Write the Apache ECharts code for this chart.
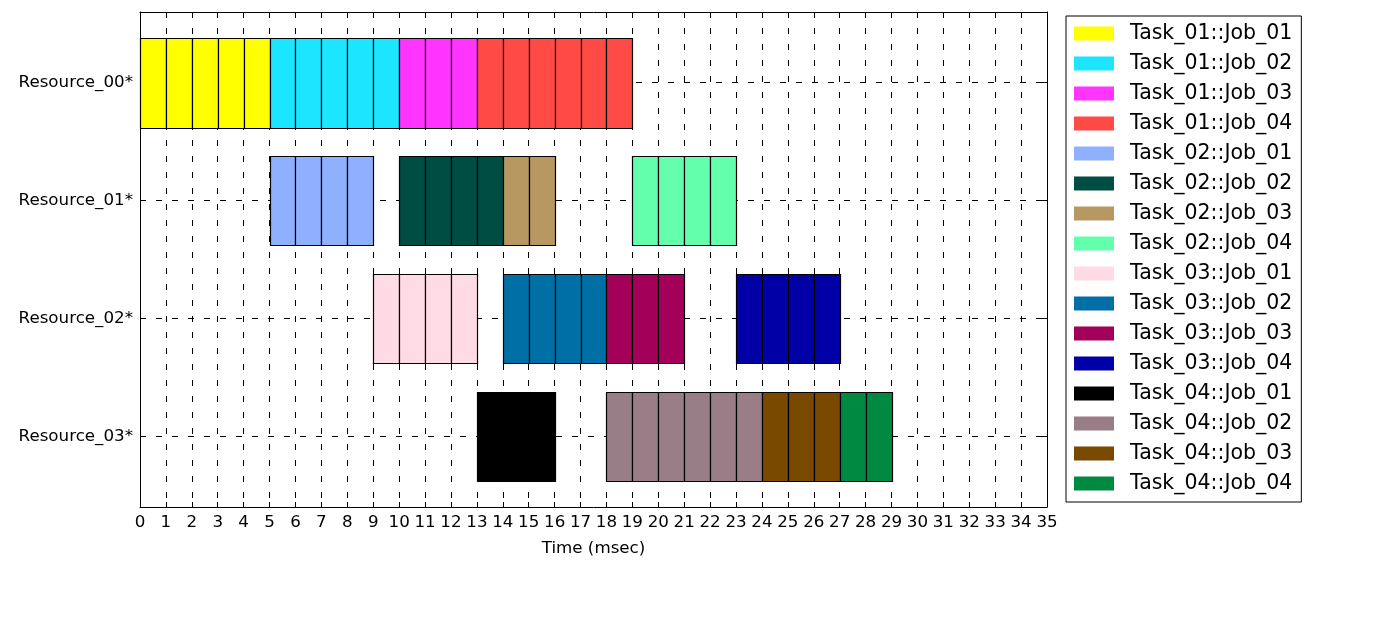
<!DOCTYPE html>
<html>
<head>
<meta charset="utf-8">
<script src="https://cdn.jsdelivr.net/npm/echarts@6/dist/echarts.min.js"></script>
<style>
html,body{margin:0;padding:0;background:#fff;}
#chart{width:1396px;height:618px;}
</style>
</head>
<body>
<div id="chart"></div>
<script>
const resources = ['Resource_00*', 'Resource_01*', 'Resource_02*', 'Resource_03*'];
const jobs = [
  'Task_01::Job_01', 'Task_01::Job_02', 'Task_01::Job_03', 'Task_01::Job_04',
  'Task_02::Job_01', 'Task_02::Job_02', 'Task_02::Job_03', 'Task_02::Job_04',
  'Task_03::Job_01', 'Task_03::Job_02', 'Task_03::Job_03', 'Task_03::Job_04',
  'Task_04::Job_01', 'Task_04::Job_02', 'Task_04::Job_03', 'Task_04::Job_04'
];
const jobColors = [
  '#FFFF00', '#1CE6FF', '#FF34FF', '#FF4A46',
  '#8FB0FF', '#004D43', '#B79762', '#63FFAC',
  '#FFDBE5', '#006FA6', '#A30059', '#0000A6',
  '#000000', '#997D87', '#7A4900', '#008941'
];
const jobResource = [0,0,0,0, 1,1,1,1, 2,2,2,2, 3,3,3,3];
const jobStart = [0,5,10,13, 5,10,14,19, 9,14,18,23, 13,18,24,27];
const jobEnd   = [5,10,13,19, 9,14,16,23, 13,18,21,27, 16,24,27,29];
const xMin = 0, xMax = 35, xStep = 1;
const xTitle = 'Time (msec)';

const FONT = 'DejaVu Sans';
const HALF = 0.38;
const resourceIdx = resources.map((_, i) => i);

function renderItem(params, api) {
  const s = api.value(0), e = api.value(1), r = api.value(2);
  const fill = api.visual('color');
  const children = [];
  for (let t = s; t < e; t++) {
    const p0 = api.coord([t, r - HALF]);
    const p1 = api.coord([t + 1, r + HALF]);
    const x0 = Math.round(p0[0]) + 0.5, x1 = Math.round(p1[0]) + 0.5;
    const y0 = Math.round(Math.min(p0[1], p1[1])) + 0.5, y1 = Math.round(Math.max(p0[1], p1[1])) + 0.5;
    children.push({
      type: 'rect',
      shape: { x: x0, y: y0, width: x1 - x0, height: y1 - y0 },
      style: { fill: fill, stroke: '#000', lineWidth: 1.2 }
    });
  }
  return { type: 'group', children: children };
}

const series = jobs.map((name, i) => ({
  name: name,
  type: 'custom',
  renderItem: renderItem,
  xAxisIndex: 0,
  yAxisIndex: 0,
  itemStyle: { color: jobColors[i] },
  encode: { x: [0, 1], y: 2 },
  data: [[jobStart[i], jobEnd[i], jobResource[i]]],
  z: 3
}));

const dash = [6, 10];

const option = {
  animation: false,
  textStyle: { fontFamily: FONT },
  grid: { left: 140, right: 349, top: 12, bottom: 111, containLabel: false },
  legend: {
    orient: 'vertical',
    left: 1066,
    top: 16,
    padding: [7, 9, 8, 8],
    itemWidth: 40,
    itemHeight: 14,
    itemGap: 9,
    borderColor: '#000',
    borderWidth: 1,
    borderRadius: 0,
    icon: 'rect',
    itemStyle: { borderWidth: 0 },
    textStyle: { fontFamily: FONT, fontSize: 20.5, lineHeight: 20, color: '#000', padding: [0, 0, 0, 11] },
    data: jobs
  },
  xAxis: [
    {
      type: 'value', min: xMin, max: xMax, interval: xStep, position: 'bottom',
      name: xTitle, nameLocation: 'middle', nameGap: 33,
      nameTextStyle: { fontFamily: FONT, fontSize: 16.7, color: '#000' },
      axisLine: { show: true, onZero: false, lineStyle: { color: '#000', width: 1 } },
      axisTick: { show: true, inside: true, length: 5, lineStyle: { color: '#000' } },
      axisLabel: { fontFamily: FONT, fontSize: 16.7, color: '#000', margin: 7, hideOverlap: false, showMinLabel: true, showMaxLabel: true },
      splitLine: { show: true, lineStyle: { color: '#000', width: 1, type: dash } }
    },
    {
      type: 'value', min: xMin, max: xMax, interval: xStep, position: 'top',
      axisLine: { show: true, onZero: false, lineStyle: { color: '#000', width: 1 } },
      axisTick: { show: true, inside: true, length: 5, lineStyle: { color: '#000' } },
      axisLabel: { show: false },
      splitLine: { show: false }
    }
  ],
  yAxis: [
    {
      type: 'value', inverse: true, min: -0.6, max: 3.6, position: 'left',
      axisLine: { show: true, onZero: false, lineStyle: { color: '#000', width: 1 } },
      axisTick: { show: true, inside: true, length: 5, lineStyle: { color: '#000' }, customValues: resourceIdx },
      axisLabel: {
        fontFamily: FONT, fontSize: 16.7, color: '#000', margin: 7,
        customValues: resourceIdx,
        formatter: v => resources[Math.round(v)] || ''
      },
      splitLine: { show: true, lineStyle: { color: '#000', width: 1, type: dash } }
    },
    {
      type: 'value', inverse: true, min: -0.6, max: 3.6, position: 'right',
      axisLine: { show: true, onZero: false, lineStyle: { color: '#000', width: 1 } },
      axisTick: { show: true, inside: true, length: 5, lineStyle: { color: '#000' }, customValues: resourceIdx },
      axisLabel: { show: false },
      splitLine: { show: false }
    }
  ],
  series: series
};

const chart = echarts.init(document.getElementById('chart'), null, { renderer: 'canvas' });
chart.setOption(option);
</script>
</body>
</html>
